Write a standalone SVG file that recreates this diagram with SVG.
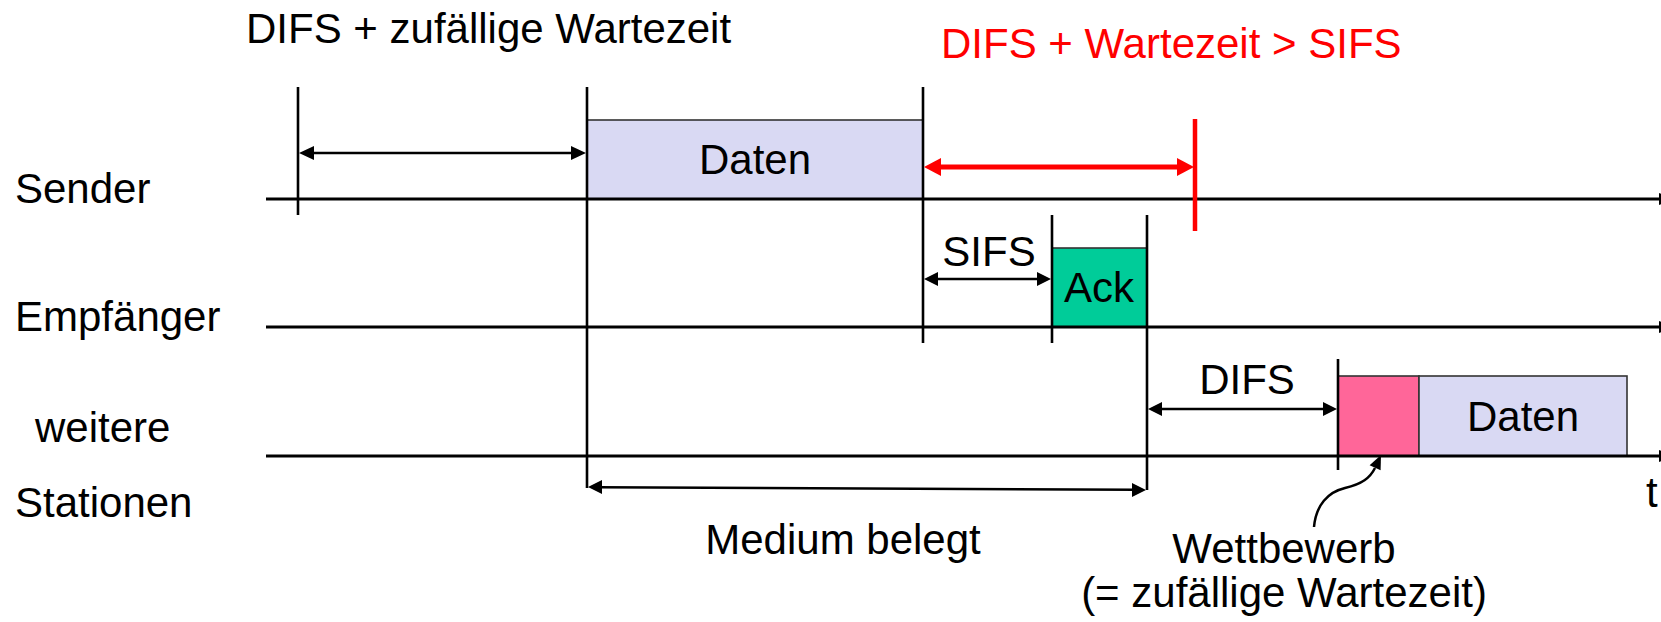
<svg xmlns="http://www.w3.org/2000/svg" width="1661" height="622" viewBox="0 0 1661 622">
<style>
text{font-family:"Liberation Sans",Arial,sans-serif;font-size:42px;fill:#000}
.red{fill:#ff0000}
.axis{stroke:#000;stroke-width:3;fill:none}
.tick{stroke:#000;stroke-width:2.6;fill:none}
.dim{stroke:#000;stroke-width:2.5;fill:none}
.box{stroke:#333;stroke-width:1.6}
.ah{fill:#000}
</style>
<rect width="1661" height="622" fill="#fff"/>

<g id="labels">
<text x="246" y="43" font-size="42.4">DIFS + zufällige Wartezeit</text>
<text x="941" y="58" class="red" font-size="42.6">DIFS + Wartezeit &gt; SIFS</text>
<text x="15" y="203">Sender</text>
<text x="15" y="331">Empfänger</text>
<text x="35" y="442">weitere</text>
<text x="15" y="517">Stationen</text>
<text x="1646" y="507">t</text>
<text x="843" y="554" text-anchor="middle">Medium belegt</text>
<text x="1284" y="563" text-anchor="middle">Wettbewerb</text>
<text x="1284" y="607" text-anchor="middle">(= zufällige Wartezeit)</text>
</g>

<g id="node-sender-daten">
<rect class="box" x="587" y="120" width="336" height="79" fill="#d9d9f3"/>
<text x="755" y="174" text-anchor="middle" font-size="41">Daten</text>
</g>
<g id="node-ack">
<rect class="box" x="1052" y="248" width="95" height="79" fill="#00cc99"/>
<text x="1099" y="302" text-anchor="middle">Ack</text>
</g>
<g id="node-wettbewerb">
<rect class="box" x="1338" y="376" width="81" height="80" fill="#ff6699"/>
</g>
<g id="node-daten2">
<rect class="box" x="1419" y="376" width="208" height="80" fill="#d9d9f3"/>
<text x="1523" y="431" text-anchor="middle" font-size="41">Daten</text>
</g>

<g id="connectors">
<!-- time axes -->
<line class="axis" x1="266" y1="199" x2="1661" y2="199"/>
<polygon class="ah" points="1659,193 1673,199 1659,205"/>
<line class="axis" x1="266" y1="327" x2="1661" y2="327"/>
<polygon class="ah" points="1659,321 1673,327 1659,333"/>
<line class="axis" x1="266" y1="456" x2="1661" y2="456"/>
<polygon class="ah" points="1659,450 1673,456 1659,462"/>

<!-- vertical ticks -->
<line class="tick" x1="298" y1="87" x2="298" y2="215"/>
<line class="tick" x1="587" y1="87" x2="587" y2="488"/>
<line class="tick" x1="923" y1="87" x2="923" y2="343"/>
<line class="tick" x1="1052" y1="215" x2="1052" y2="343"/>
<line class="tick" x1="1147" y1="215" x2="1147" y2="490"/>
<line class="tick" x1="1338" y1="359" x2="1338" y2="470"/>
<line x1="1195" y1="119" x2="1195" y2="231" stroke="#ff0000" stroke-width="4.5"/>

<!-- DIFS + random wait arrow -->
<line class="dim" x1="310" y1="153" x2="575" y2="153"/>
<polygon class="ah" points="299,153 314,146 314,160"/>
<polygon class="ah" points="586,153 571,146 571,160"/>

<!-- red arrow -->
<line x1="935" y1="167" x2="1183" y2="167" stroke="#ff0000" stroke-width="5"/>
<polygon fill="#ff0000" points="924,167 941,158 941,176"/>
<polygon fill="#ff0000" points="1194,167 1177,158 1177,176"/>

<!-- SIFS -->
<line class="dim" x1="934" y1="279" x2="1041" y2="279"/>
<polygon class="ah" points="924,279 938,272 938,286"/>
<polygon class="ah" points="1051,279 1037,272 1037,286"/>
<text x="989" y="266" text-anchor="middle">SIFS</text>

<!-- DIFS -->
<line class="dim" x1="1158" y1="409" x2="1327" y2="409"/>
<polygon class="ah" points="1148,409 1162,402 1162,416"/>
<polygon class="ah" points="1337,409 1323,402 1323,416"/>
<text x="1247" y="394" text-anchor="middle">DIFS</text>

<!-- Medium belegt -->
<line class="dim" x1="598" y1="487.2" x2="1136" y2="489.8"/>
<polygon class="ah" points="588,487 602,480 602,494"/>
<polygon class="ah" points="1146,490 1132,483 1132,497"/>

<!-- Wettbewerb pointer -->
<path class="dim" d="M1314,527 C1316,505 1328,492 1345,488 C1362,484 1370,478 1375,468"/>
<polygon class="ah" points="1381,455 1380.6,470.2 1369.6,465.2"/>
</g>
</svg>
